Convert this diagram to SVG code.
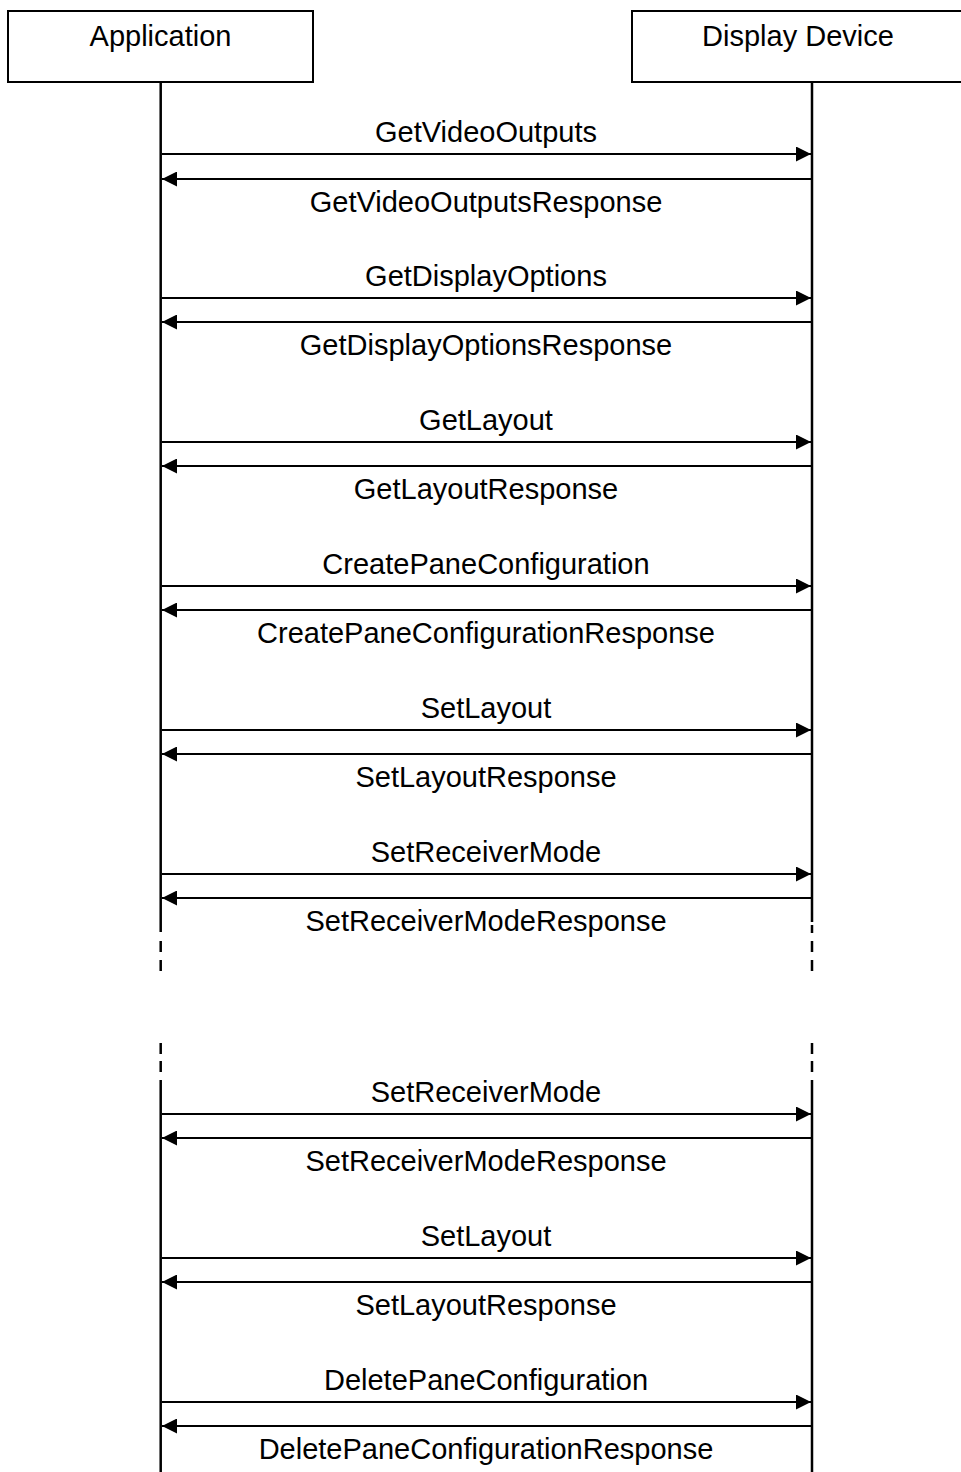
<svg xmlns="http://www.w3.org/2000/svg" width="961" height="1472" viewBox="0 0 961 1472">
<defs>
<style>
.box{fill:#fff;stroke:#000;stroke-width:2}
.life{stroke:#000;stroke-width:2.5;fill:none}
.msg{stroke:#000;stroke-width:2;fill:none}
.lbl{font-family:"Liberation Sans",Arial,sans-serif;font-size:29px;fill:#000;text-anchor:middle}
</style>
<marker id="ah" viewBox="0 0 15 15" refX="15" refY="7.5" markerWidth="15" markerHeight="15" markerUnits="userSpaceOnUse" orient="auto">
<path d="M0,0 L15,7.5 L0,15 Z" fill="#000"/>
</marker>
</defs>
<rect width="961" height="1472" fill="#fff"/>
<g id="application">
<rect class="box" x="8" y="11" width="305" height="71"/>
<text class="lbl" x="160.5" y="46">Application</text>
</g>
<g id="display-device">
<rect class="box" x="632" y="11" width="332" height="71"/>
<text class="lbl" x="798" y="46">Display Device</text>
</g>
<g id="lifelines">
<path class="life" d="M160.7,82 V932 M160.7,941 V952 M160.7,960 V971 M160.7,1043 V1054 M160.7,1061 V1072 M160.7,1080 V1472"/>
<path class="life" d="M812,82 V922 M812,925 V933 M812,941 V952 M812,960 V971 M812,1043 V1054 M812,1061 V1072 M812,1080 V1472"/>
</g>
<g id="connectors">
<line class="msg" x1="162" y1="154" x2="811" y2="154" marker-end="url(#ah)"/>
<line class="msg" x1="811" y1="179" x2="162" y2="179" marker-end="url(#ah)"/>
<line class="msg" x1="162" y1="298" x2="811" y2="298" marker-end="url(#ah)"/>
<line class="msg" x1="811" y1="322" x2="162" y2="322" marker-end="url(#ah)"/>
<line class="msg" x1="162" y1="442" x2="811" y2="442" marker-end="url(#ah)"/>
<line class="msg" x1="811" y1="466" x2="162" y2="466" marker-end="url(#ah)"/>
<line class="msg" x1="162" y1="586" x2="811" y2="586" marker-end="url(#ah)"/>
<line class="msg" x1="811" y1="610" x2="162" y2="610" marker-end="url(#ah)"/>
<line class="msg" x1="162" y1="730" x2="811" y2="730" marker-end="url(#ah)"/>
<line class="msg" x1="811" y1="754" x2="162" y2="754" marker-end="url(#ah)"/>
<line class="msg" x1="162" y1="874" x2="811" y2="874" marker-end="url(#ah)"/>
<line class="msg" x1="811" y1="898" x2="162" y2="898" marker-end="url(#ah)"/>
<line class="msg" x1="162" y1="1114" x2="811" y2="1114" marker-end="url(#ah)"/>
<line class="msg" x1="811" y1="1138" x2="162" y2="1138" marker-end="url(#ah)"/>
<line class="msg" x1="162" y1="1258" x2="811" y2="1258" marker-end="url(#ah)"/>
<line class="msg" x1="811" y1="1282" x2="162" y2="1282" marker-end="url(#ah)"/>
<line class="msg" x1="162" y1="1402" x2="811" y2="1402" marker-end="url(#ah)"/>
<line class="msg" x1="811" y1="1426" x2="162" y2="1426" marker-end="url(#ah)"/>
</g>
<g id="labels">
<text class="lbl" x="486" y="142">GetVideoOutputs</text>
<text class="lbl" x="486" y="212">GetVideoOutputsResponse</text>
<text class="lbl" x="486" y="286">GetDisplayOptions</text>
<text class="lbl" x="486" y="355">GetDisplayOptionsResponse</text>
<text class="lbl" x="486" y="430">GetLayout</text>
<text class="lbl" x="486" y="499">GetLayoutResponse</text>
<text class="lbl" x="486" y="574">CreatePaneConfiguration</text>
<text class="lbl" x="486" y="643">CreatePaneConfigurationResponse</text>
<text class="lbl" x="486" y="718">SetLayout</text>
<text class="lbl" x="486" y="787">SetLayoutResponse</text>
<text class="lbl" x="486" y="862">SetReceiverMode</text>
<text class="lbl" x="486" y="931">SetReceiverModeResponse</text>
<text class="lbl" x="486" y="1102">SetReceiverMode</text>
<text class="lbl" x="486" y="1171">SetReceiverModeResponse</text>
<text class="lbl" x="486" y="1246">SetLayout</text>
<text class="lbl" x="486" y="1315">SetLayoutResponse</text>
<text class="lbl" x="486" y="1390">DeletePaneConfiguration</text>
<text class="lbl" x="486" y="1459">DeletePaneConfigurationResponse</text>
</g>
</svg>
